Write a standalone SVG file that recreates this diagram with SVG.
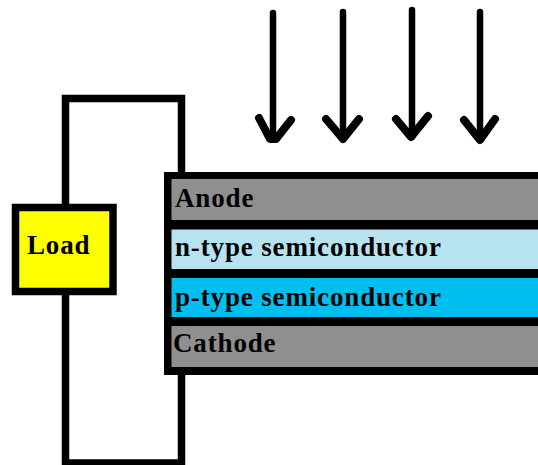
<svg xmlns="http://www.w3.org/2000/svg" width="538" height="465" viewBox="0 0 538 465">
<style>
.w{fill:none;stroke:#000;stroke-width:7.5}
.a{fill:none;stroke:#000;stroke-width:6.500;stroke-linecap:round;stroke-linejoin:round}
.h{fill:none;stroke:#000;stroke-width:8;stroke-linecap:round;stroke-linejoin:round}
text{font-family:"Liberation Serif","Times New Roman",serif;font-weight:bold;font-size:27px;fill:#000;letter-spacing:.85px}
</style>
<rect width="538" height="465" fill="#fff"/>
<g id="connectors">
<path class="w" d="M65.500 204V98.500H181.500V172M65.500 295V463H181.500V375"/>
<g id="arrow-1"><path class="a" d="M273 13V138"/><path class="h" d="M259 118L270 139H276L291 120"/></g>
<g id="arrow-2"><path class="a" d="M343 12V139"/><path class="h" d="M326 119L343 139L359 119"/></g>
<g id="arrow-3"><path class="a" d="M412 10V137"/><path class="h" d="M396 119L411 137L428 116"/></g>
<g id="arrow-4"><path class="a" d="M480 12V140"/><path class="h" d="M464 120L480 140L495 119"/></g>
</g>
<g id="stack"><rect x="164" y="172" width="374" height="203" fill="#000"/></g>
<g id="anode"><rect x="171.500" y="179" width="366.500" height="41" fill="#8f8f8f"/><text x="175" y="207">Anode</text></g>
<g id="n-type"><rect x="171.500" y="229.500" width="366.500" height="39.500" fill="#b7e3f1"/><text x="175" y="256">n-type semiconductor</text></g>
<g id="p-type"><rect x="171.500" y="278" width="366.500" height="39" fill="#00bff0"/><text x="175" y="306">p-type semiconductor</text></g>
<g id="cathode"><rect x="171.500" y="326" width="366.500" height="41" fill="#8f8f8f"/><text x="173" y="352">Cathode</text></g>
<g id="load"><rect x="15.500" y="207.500" width="97.500" height="84" fill="#ff0" stroke="#000" stroke-width="7.500"/><text x="27" y="254">Load</text></g>
</svg>
